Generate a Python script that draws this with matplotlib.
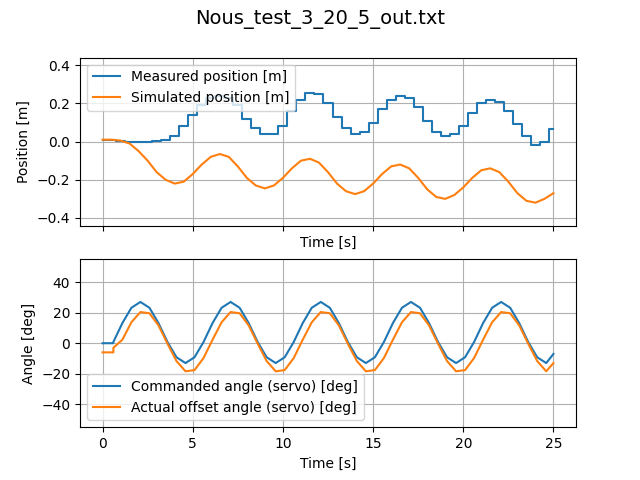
import numpy as np
import matplotlib
matplotlib.use("Agg")
import matplotlib.pyplot as plt

# top plot, sampled every 0.5 s
t_pos = np.arange(0, 25.01, 0.5)
measured = [0.01, 0.01, 0.005, 0.0, 0.0, 0.0, 0.005, 0.01, 0.03, 0.08, 0.14, 0.19, 0.23, 0.24, 0.23,
            0.19, 0.12, 0.07, 0.04, 0.04, 0.08, 0.16, 0.22, 0.255, 0.25, 0.2, 0.13, 0.07, 0.04, 0.05,
            0.1, 0.17, 0.22, 0.24, 0.23, 0.18, 0.11, 0.05, 0.03, 0.04, 0.08, 0.15, 0.2, 0.22, 0.21,
            0.16, 0.09, 0.03, -0.02, 0.0, 0.065]
simulated = [0.01, 0.01, 0.005, -0.01, -0.05, -0.1, -0.16, -0.2, -0.22, -0.21, -0.17, -0.12, -0.08,
             -0.065, -0.08, -0.13, -0.19, -0.23, -0.245, -0.23, -0.19, -0.14, -0.1, -0.09, -0.11,
             -0.16, -0.22, -0.26, -0.275, -0.26, -0.22, -0.17, -0.13, -0.12, -0.14, -0.19, -0.25,
             -0.29, -0.3, -0.28, -0.24, -0.19, -0.15, -0.14, -0.16, -0.21, -0.27, -0.31, -0.32,
             -0.3, -0.27]

# bottom plot: flat start, jump at 0.6 s, then every 0.5 s
t_ang = [0, 0.6] + list(np.arange(0.6, 24.7, 0.5)) + [25.0]
cmd_cycle = [0.8, 13.2, 23.2, 27, 23.2, 13.2, 0.8, -9.2, -13, -9.2]
act_cycle = [-9.7, 2.3, 13.7, 20.4, 19.6, 11.7, -0.3, -11.7, -18.4, -17.6]
commanded = [0, 0] + (cmd_cycle * 5)[:49] + [-7]
actual = [-6, -6, -3] + (act_cycle * 5)[1:49] + [-13]

fig, (ax1, ax2) = plt.subplots(2, 1, sharex=True, figsize=(6.4, 4.8), dpi=100)
fig.suptitle("Nous_test_3_20_5_out.txt", fontsize=14)

ax1.plot(t_pos, measured, drawstyle="steps-mid", label="Measured position [m]")
ax1.plot(t_pos, simulated, label="Simulated position [m]")
ax1.set_ylim(-0.44, 0.44)
ax1.set_yticks([-0.4, -0.2, 0.0, 0.2, 0.4])
ax1.set_ylabel("Position [m]")
ax1.set_xlabel("Time [s]")
ax1.grid(True)
ax1.legend(loc="upper left")

ax2.plot(t_ang, commanded, label="Commanded angle (servo) [deg]")
ax2.plot(t_ang, actual, label="Actual offset angle (servo) [deg]")
ax2.set_ylim(-55, 55)
ax2.set_yticks([-40, -20, 0, 20, 40])
ax2.set_ylabel("Angle [deg]")
ax2.set_xlabel("Time [s]")
ax2.grid(True)
ax2.legend(loc="lower left")

plt.savefig("out.png")
